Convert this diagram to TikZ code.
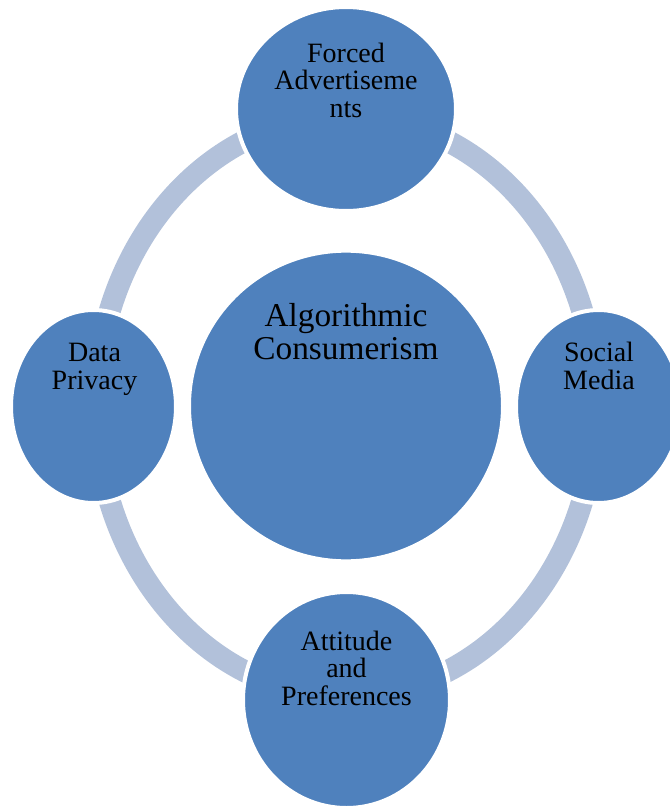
\documentclass[tikz,border=0pt]{standalone}
\usepackage{fontspec}
\setmainfont{Liberation Serif}
\usetikzlibrary{shapes.geometric}
\definecolor{hubblue}{RGB}{79,129,189}
\definecolor{ringblue}{RGB}{178,193,218}
\begin{document}
\begin{tikzpicture}[x=0.75pt,y=-0.75pt,
  spoke/.style={ellipse,fill=hubblue,draw=white,line width=3pt,inner sep=0pt},
  txt/.style={align=center,anchor=base,font=\fontsize{21}{20.6}\selectfont},
  bigtxt/.style={align=center,anchor=base,font=\fontsize{25}{24.75}\selectfont}]
\useasboundingbox (0,0) rectangle (670,807);
\draw [ringblue, line width=16.5pt] (346,406) ellipse (187.5pt and 217.5pt);
\node[spoke, minimum width=165pt, minimum height=153pt] (ads) at (346,109) {};
\node[spoke, minimum width=123.75pt, minimum height=144.75pt] (privacy) at (93.5,406.5) {};
\node[spoke, minimum width=123.75pt, minimum height=144.75pt] (social) at (598.5,406.5) {};
\node[spoke, minimum width=155.25pt, minimum height=162pt] (attitude) at (346.5,700) {};
\node[spoke, minimum width=235.5pt, minimum height=233pt] (algo) at (346,406) {};
% labels sit on the baseline of their last line
\node[txt] (adslbl) at (346,117) {Forced\\Advertiseme\\nts};
\node[txt] (privacylbl) at (94.5,389) {Data\\Privacy};
\node[txt] (sociallbl) at (599,389) {Social\\Media};
\node[txt] (attitudelbl) at (346.5,705) {Attitude\\and\\Preferences};
\node[bigtxt] (algolbl) at (346,359) {Algorithmic\\Consumerism};
\end{tikzpicture}
\end{document}
